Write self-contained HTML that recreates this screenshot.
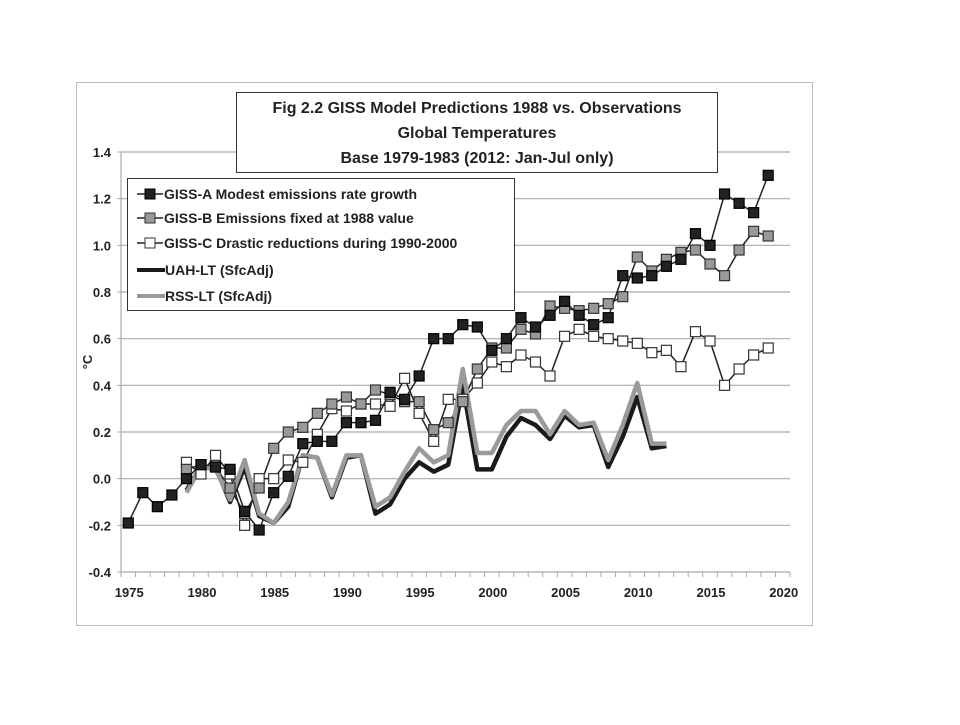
<!DOCTYPE html>
<html><head><meta charset="utf-8"><style>
body{margin:0;background:#fff;}
svg text{font-family:"Liberation Sans",sans-serif;font-weight:bold;fill:#222;}
</style></head><body>
<svg width="960" height="720" viewBox="0 0 960 720">
<rect x="76.5" y="82.5" width="736" height="543" fill="#fff" stroke="#bbb"/>
<g id="grid"></g>
<g id="yticks"></g>
<g id="xticks"></g>
<g id="series"></g>
<text x="92" y="362" font-size="13" transform="rotate(-90 92 362)" text-anchor="middle">°C</text>
<g>
<rect x="236.5" y="92.5" width="481" height="80" fill="#fff" stroke="#333"/>
<text x="477" y="113" font-size="16" text-anchor="middle">Fig 2.2  GISS Model Predictions 1988 vs. Observations</text>
<text x="477" y="138" font-size="16" text-anchor="middle">Global Temperatures</text>
<text x="477" y="163" font-size="16" text-anchor="middle">Base 1979-1983 (2012: Jan-Jul only)</text>
</g>
<g>
<rect x="127.5" y="178.5" width="387" height="132" fill="#fff" stroke="#333"/>
<g><line x1="137" y1="194" x2="163" y2="194" stroke="#222" stroke-width="1.5"/><rect x="145" y="189" width="10" height="10" fill="#222" stroke="#000"/><text x="164" y="199" font-size="14">GISS-A Modest emissions rate growth</text></g>
<g><line x1="137" y1="218" x2="163" y2="218" stroke="#222" stroke-width="1.5"/><rect x="145" y="213" width="10" height="10" fill="#999" stroke="#333"/><text x="164" y="223" font-size="14">GISS-B Emissions fixed at 1988 value</text></g>
<g><line x1="137" y1="243" x2="163" y2="243" stroke="#222" stroke-width="1.5"/><rect x="145" y="238" width="10" height="10" fill="#fff" stroke="#333"/><text x="164" y="248" font-size="14">GISS-C Drastic reductions during 1990-2000</text></g>
<g><line x1="137" y1="270" x2="165" y2="270" stroke="#1a1a1a" stroke-width="4"/><text x="165" y="275" font-size="14">UAH-LT (SfcAdj)</text></g>
<g><line x1="137" y1="296" x2="165" y2="296" stroke="#999" stroke-width="4"/><text x="165" y="301" font-size="14">RSS-LT (SfcAdj)</text></g>
</g>
</svg>
<script>
const years=[];for(let y=1975;y<=2020;y++)years.push(y);
const yTicks=[-0.4,-0.2,0.0,0.2,0.4,0.6,0.8,1.0,1.2,1.4];
const xLabels=[1975,1980,1985,1990,1995,2000,2005,2010,2015,2020];
const gissAStart=1975;
const gissA=[-0.19,-0.06,-0.12,-0.07,0.0,0.06,0.05,0.04,-0.14,-0.22,-0.06,0.01,0.15,0.16,0.16,0.24,0.24,0.25,0.37,0.34,0.44,0.60,0.60,0.66,0.65,0.55,0.60,0.69,0.65,0.70,0.76,0.70,0.66,0.69,0.87,0.86,0.87,0.91,0.94,1.05,1.00,1.22,1.18,1.14,1.30];
const gissBStart=1979;
const gissB=[0.04,0.06,0.05,-0.04,-0.15,-0.04,0.13,0.20,0.22,0.28,0.32,0.35,0.32,0.38,0.36,0.33,0.33,0.21,0.24,0.33,0.47,0.56,0.56,0.64,0.62,0.74,0.73,0.72,0.73,0.75,0.78,0.95,0.89,0.94,0.97,0.98,0.92,0.87,0.98,1.06,1.04];
const gissCStart=1979;
const gissC=[0.07,0.02,0.10,0.02,-0.20,0.00,0.00,0.08,0.07,0.19,0.30,0.29,0.32,0.32,0.31,0.43,0.28,0.16,0.34,0.34,0.41,0.50,0.48,0.53,0.50,0.44,0.61,0.64,0.61,0.60,0.59,0.58,0.54,0.55,0.48,0.63,0.59,0.40,0.47,0.53,0.56];
const satStart=1979;
const uah=[-0.05,0.05,0.05,-0.10,0.05,-0.16,-0.19,-0.12,0.10,0.09,-0.08,0.09,0.10,-0.15,-0.11,0.00,0.07,0.03,0.06,0.40,0.04,0.04,0.18,0.26,0.23,0.17,0.27,0.22,0.23,0.05,0.18,0.35,0.13,0.14];
const rss=[-0.06,0.05,0.04,-0.09,0.08,-0.15,-0.19,-0.10,0.10,0.09,-0.07,0.10,0.10,-0.12,-0.08,0.03,0.13,0.07,0.10,0.47,0.11,0.11,0.23,0.29,0.29,0.19,0.29,0.23,0.24,0.08,0.23,0.41,0.15,0.15];

const NS='http://www.w3.org/2000/svg';
const X0=121,X1=790,Y0=572,Y1=152;
const n=years.length;
const xs=yr=>X0+(X1-X0)/n*(yr-years[0]+0.5);
const ys=v=>Y0+(v+0.4)/1.8*(Y1-Y0);
function mk(tag,attrs,parent){const e=document.createElementNS(NS,tag);for(const k in attrs)e.setAttribute(k,attrs[k]);parent.appendChild(e);return e;}
const grid=document.getElementById('grid'),yt=document.getElementById('yticks'),xt=document.getElementById('xticks'),ser=document.getElementById('series');
yTicks.forEach(v=>{
  const y=ys(v);
  if(v>-0.4){const l=mk('line',{x1:X0,x2:X1,y1:y,y2:y,stroke:'#aaa','stroke-width':1.2},grid);
  
  }
  mk('line',{x1:X0-4,x2:X0,y1:y,y2:y,stroke:'#aaa'},yt);
  const t=mk('text',{x:X0-10,y:y+5,'font-size':13,'text-anchor':'end'},yt);t.textContent=v.toFixed(1);
  
  
});
mk('line',{x1:X0,x2:X0,y1:Y1,y2:Y0,stroke:'#aaa','stroke-width':1.2},yt);
mk('line',{x1:X0,x2:X1,y1:Y0,y2:Y0,stroke:'#aaa','stroke-width':1.2},xt);
for(let i=0;i<=n;i++){const x=X0+(X1-X0)/n*i;mk('line',{x1:x,x2:x,y1:Y0,y2:Y0+5,stroke:'#aaa'},xt);}
xLabels.forEach(yr=>{const t=mk('text',{x:xs(yr)+1,y:Y0+25,'font-size':13,'text-anchor':'middle'},xt);t.textContent=yr;
  
  });
function pts(arr,start){return arr.map((v,i)=>[xs(start+i),ys(v)]);}
function line(arr,start,color,w,name){const p=mk('polyline',{points:pts(arr,start).map(q=>q.join(',')).join(' '),fill:'none',stroke:color,'stroke-width':w,'stroke-linejoin':'round'},ser);
  
  }
function markers(arr,start,fill,stroke,name){pts(arr,start).forEach(q=>{const r=mk('rect',{x:q[0]-5,y:q[1]-5,width:10,height:10,fill:fill,stroke:stroke,'stroke-width':1.2},ser);
  
  });}
line(gissC,gissCStart,'#222',1.5,'giss-c-line');
line(gissB,gissBStart,'#222',1.5,'giss-b-line');
line(gissA,gissAStart,'#222',1.5,'giss-a-line');
line(uah,satStart,'#1a1a1a',4.5,'uah-line');
line(rss,satStart,'#9a9a9a',4.5,'rss-line');
markers(gissC,gissCStart,'#fff','#333','giss-c-marker');
markers(gissB,gissBStart,'#999','#333','giss-b-marker');
markers(gissA,gissAStart,'#222','#000','giss-a-marker');
</script>
</body></html>
